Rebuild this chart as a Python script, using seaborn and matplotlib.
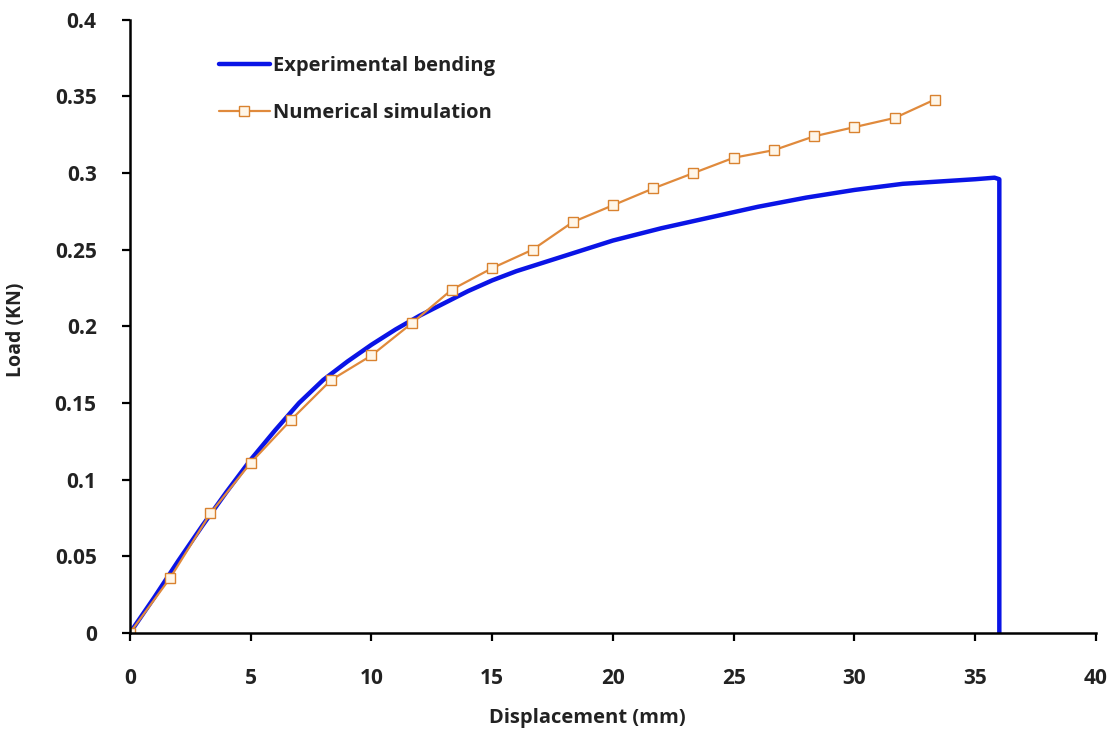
import matplotlib
matplotlib.use("Agg")
import matplotlib.pyplot as plt
import seaborn as sns

# experimental bending curve
exp_disp = [0, 1, 2, 3, 4, 5, 6, 7, 8, 9, 10, 11, 12, 13, 14, 15, 16, 17, 18, 19,
            20, 22, 24, 26, 28, 30, 32, 34, 35, 35.8, 36.0, 36.0]
exp_load = [0, 0.023, 0.047, 0.070, 0.092, 0.113, 0.132, 0.150, 0.165, 0.177, 0.188,
            0.198, 0.207, 0.215, 0.223, 0.230, 0.236, 0.241, 0.246, 0.251, 0.256,
            0.264, 0.271, 0.278, 0.284, 0.289, 0.293, 0.295, 0.296, 0.297, 0.296, 0]

# numerical simulation points
num_disp = [0, 1.67, 3.33, 5, 6.67, 8.33, 10, 11.67, 13.33, 15, 16.67, 18.33, 20,
            21.67, 23.33, 25, 26.67, 28.33, 30, 31.67, 33.33]
num_load = [0, 0.036, 0.078, 0.111, 0.139, 0.165, 0.181, 0.202, 0.224, 0.238, 0.250,
            0.268, 0.279, 0.290, 0.300, 0.310, 0.315, 0.324, 0.330, 0.336, 0.348]

xticks = [0, 5, 10, 15, 20, 25, 30, 35, 40]
yticks = [0, 0.05, 0.1, 0.15, 0.2, 0.25, 0.3, 0.35, 0.4]
ytick_labels = ["0", "0.05", "0.1", "0.15", "0.2", "0.25", "0.3", "0.35", "0.4"]

sns.set_style("ticks")
plt.rcParams["font.family"] = ["Open Sans", "DejaVu Sans"]
plt.rcParams["font.weight"] = "bold"

fig = plt.figure(figsize=(11.16, 7.35), dpi=100)
ax = fig.add_axes([0.1165, 0.139, 0.8655, 0.834])

sns.lineplot(x=exp_disp, y=exp_load, estimator=None, sort=False, color="#0a14e6",
             linewidth=3.2, label="Experimental bending", ax=ax)
sns.lineplot(x=num_disp, y=num_load, estimator=None, sort=False, color="#e08a3c",
             linewidth=1.6, marker="s", markersize=7, markerfacecolor="#fff6e8",
             markeredgecolor="#d9822f", markeredgewidth=1.0,
             label="Numerical simulation", ax=ax)

ax.set_xlim(0, 40)
ax.set_ylim(0, 0.4)
ax.set_xticks(xticks)
ax.set_yticks(yticks)
ax.set_yticklabels(ytick_labels)
ax.tick_params(axis="both", labelsize=15, width=1.6, length=6, color="black")
ax.tick_params(axis="x", pad=19)
ax.tick_params(axis="y", pad=18)
for lab in ax.get_xticklabels() + ax.get_yticklabels():
    lab.set_fontweight("bold")
    lab.set_color("#222222")

for side in ["top", "right"]:
    ax.spines[side].set_visible(False)
for side in ["left", "bottom"]:
    ax.spines[side].set_linewidth(1.8)
    ax.spines[side].set_color("black")

ax.set_xlabel("Displacement (mm)", fontsize=14.5, fontweight="bold", color="#222222")
ax.set_ylabel("Load (KN)", fontsize=14, fontweight="bold", color="#222222")
ax.xaxis.set_label_coords(0.473, -0.122)
ax.yaxis.set_label_coords(-0.108, 0.494)

leg = ax.legend(loc="upper left", bbox_to_anchor=(0.082, 0.958), frameon=False,
                borderpad=0, handlelength=2.5, handletextpad=0.15, labelspacing=1.35,
                prop={"size": 14.5, "weight": "bold"})
for t in leg.get_texts():
    t.set_color("#222222")

fig.savefig("out.png", dpi=100)
